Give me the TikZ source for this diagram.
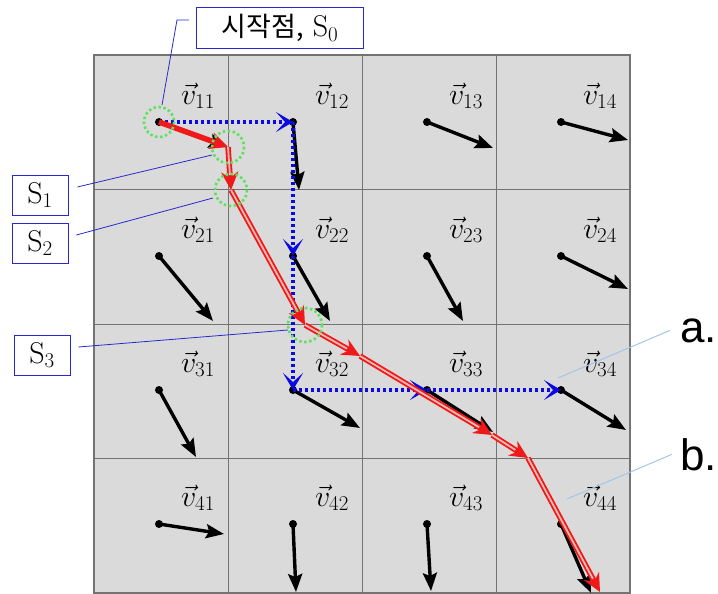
\documentclass[tikz,border=0pt]{standalone}
\usepackage{fix-cm}
\usepackage{fontspec}
\setsansfont{Liberation Sans}
\newfontfamily\kfont{Noto Sans CJK KR}
\usepackage{tikz}
\usetikzlibrary{arrows.meta}
\definecolor{cellgray}{RGB}{218,218,218}
\definecolor{gridgray}{RGB}{115,115,115}
\definecolor{leadblue}{RGB}{40,40,210}
\definecolor{paleblue}{RGB}{165,198,230}
\definecolor{walkblue}{RGB}{10,10,225}
\definecolor{ringgreen}{RGB}{95,225,95}
\definecolor{pathred}{RGB}{240,25,25}
\definecolor{pathpink}{RGB}{250,185,180}

\begin{document}
\begin{tikzpicture}[x=1pt,y=-1pt,
      vec/.style={line width=3.4pt,-{Stealth[length=18pt,width=14pt,inset=3pt]}},
      walk/.style={walkblue,line width=3.4pt,dash pattern=on 3pt off 3pt,
                   -{Stealth[length=17pt,width=20pt,inset=9pt]}},
      run/.style={pathred,line width=5.5pt,-{Stealth[length=18pt,width=17pt,inset=6pt]}},
      runcore/.style={pathpink,line width=1.8pt,shorten >=15pt},
      ring/.style={ringgreen,line width=2.6pt,dash pattern=on 2.5pt off 2.5pt},
      lbox/.style={draw=leadblue,fill=white,line width=0.8pt,inner sep=0pt,
                   minimum width=56pt,minimum height=40pt,font=\fontsize{30}{34}\selectfont},
      lead/.style={leadblue,line width=0.8pt},
      pale/.style={paleblue,line width=1pt},
      vl/.style={font=\fontsize{30}{36}\selectfont}]
  \useasboundingbox (0,0) rectangle (718,594);
  % grid of cells
  \fill[cellgray] (94,55) rectangle (630,593);
  \foreach \i in {1,2,3} {
    \draw[gridgray,line width=1pt] ({94+134*\i},55) -- ({94+134*\i},593);
    \draw[gridgray,line width=1pt] (94,{55+134.5*\i}) -- (630,{55+134.5*\i});
  }
  \draw[gridgray,line width=2pt] (94,55) rectangle (630,593);
  % vectors
  \foreach \r/\c/\dx/\dy in {1/1/68/25,1/2/6/68,1/3/66/26,1/4/67/18,
                             2/1/54/65,2/2/37/65,2/3/36/65,2/4/67/33,
                             3/1/37/67,3/2/67/38,3/3/66/42,3/4/65/40,
                             4/1/65/10,4/2/3/68,4/3/4/67,4/4/30/69} {
    \coordinate (p\r\c) at ({159+134*(\c-1)},{122+134*(\r-1)});
    \coordinate (q\r\c) at ({159+134*(\c-1)+\dx},{122+134*(\r-1)+\dy});
    \draw[vec] (p\r\c) -- (q\r\c);
    \fill (p\r\c) circle (4);
    \node[vl] (l\r\c) at ({198+134*(\c-1)},{96+134*(\r-1)}) {$\vec{v}_{\r\c}$};
  }
  % blue walk
  \draw[walk] (p11) -- (p12);
  \draw[walk] (p12) -- (p22);
  \draw[walk] (p22) -- (p32);
  \draw[walk] (p32) -- (p33);
  \draw[walk] (p33) -- (p34);
  % red path
  \coordinate (s1) at (228,147);
  \coordinate (s2) at (231,190);
  \coordinate (s3) at (305,325);
  \coordinate (r4) at (360,356);
  \coordinate (r5) at (492,435);
  \coordinate (r6) at (528,458);
  \coordinate (r7) at (600,592);
  \draw[run] (p11) -- (s1);
  \foreach \a/\b in {s1/s2,s2/s3,s3/r4,r4/r5,r5/r6,r6/r7} {
    \draw[run] (\a) -- (\b);
    \draw[runcore] (\a) -- (\b);
  }
  % rings
  \draw[ring] (p11) circle (15);
  \draw[ring] (s1) circle (16);
  \draw[ring] (s2) circle (16);
  \draw[ring] (s3) circle (17);
  % labels
  \node[lbox,minimum width=167pt,minimum height=41pt] (b0) at (280,28)
    {{\kfont\fontsize{27}{32}\selectfont 시작점,} S$_0$};
  \node[lbox] (b1) at (40,195) {S$_1$};
  \node[lbox] (b2) at (40,243) {S$_2$};
  \node[lbox] (b3) at (42,355) {S$_3$};
  \coordinate (c0) at (177,20);
  \coordinate (e0) at (162,105);
  \coordinate (e1) at (212,155);
  \coordinate (e2) at (213,198);
  \coordinate (e3) at (288,330);
  \draw[lead] ([xshift=-7pt,yshift=8pt]b0.west) -- (c0) -- (e0);
  \draw[lead] ([xshift=9pt,yshift=8pt]b1.east) -- (e1);
  \draw[lead] ([xshift=8pt,yshift=8pt]b2.east) -- (e2);
  \draw[lead] ([xshift=8pt,yshift=8pt]b3.east) -- (e3);
  \node[anchor=base west,inner sep=0pt,font=\sffamily\fontsize{44}{50}\selectfont] (ta) at (680,342) {a.};
  \node[anchor=base west,inner sep=0pt,font=\sffamily\fontsize{44}{50}\selectfont] (tb) at (680,470) {b.};
  \coordinate (ea) at (558,378);
  \coordinate (eb) at (567,499);
  \draw[pale] ([xshift=-10pt]ta.west) -- (ea);
  \draw[pale] ([xshift=-8pt]tb.west) -- (eb);
\end{tikzpicture}
\end{document}
